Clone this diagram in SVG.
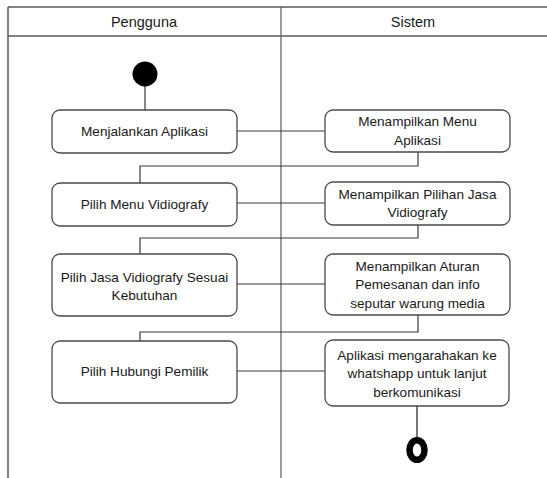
<svg xmlns="http://www.w3.org/2000/svg" width="547" height="478" viewBox="0 0 547 478">
<style>
.frame{stroke:#5a5a5a;stroke-width:1.5;fill:none}
.box{fill:#fff;stroke:#4a4a4a;stroke-width:1.3}
.t{font-family:"Liberation Sans",Arial,sans-serif;font-size:13.6px;fill:#1a1a1a;text-anchor:middle;dominant-baseline:central}
.h{font-family:"Liberation Sans",Arial,sans-serif;font-size:14.5px;fill:#1a1a1a;text-anchor:middle;dominant-baseline:central}
.c{stroke:#3a3a3a;stroke-width:1.2;fill:none}
</style>
<rect width="547" height="478" fill="#fff"/>
<g id="lanes">
<line class="frame" x1="8" y1="7" x2="547" y2="7"/>
<line class="frame" x1="8" y1="36" x2="547" y2="36"/>
<line class="frame" x1="8" y1="7" x2="8" y2="478"/>
<line class="frame" x1="281" y1="7" x2="281" y2="478" style="stroke-width:1.2"/>
<text class="h" x="144" y="22">Pengguna</text>
<text class="h" x="413" y="22">Sistem</text>
</g>
<g id="connectors">
<line class="c" x1="145" y1="86" x2="145" y2="110"/>
<line class="c" x1="237" y1="131" x2="325" y2="131"/>
<polyline class="c" points="418,152 418,166 140,166 140,183"/>
<line class="c" x1="237" y1="203" x2="325" y2="203"/>
<polyline class="c" points="418,225 418,238 140,238 140,254"/>
<line class="c" x1="237" y1="284" x2="325" y2="284"/>
<polyline class="c" points="418,315 418,332 140,332 140,341"/>
<line class="c" x1="237" y1="371" x2="325" y2="371"/>
<line x1="417" y1="406" x2="417" y2="438" stroke="#777" stroke-width="2"/>
</g>
<g id="start"><circle cx="145" cy="74" r="12.5" fill="#000"/></g>
<g id="n1"><rect class="box" x="52" y="110" width="185" height="43" rx="8"/><text class="t" x="144.5" y="131.5">Menjalankan Aplikasi</text></g>
<g id="n2"><rect class="box" x="325" y="110" width="185" height="42" rx="8"/><text class="t" x="417.5" y="121.5">Menampilkan Menu</text><text class="t" x="417.5" y="140">Aplikasi</text></g>
<g id="n3"><rect class="box" x="52" y="183" width="185" height="43" rx="8"/><text class="t" x="144.5" y="204">Pilih Menu Vidiografy</text></g>
<g id="n4"><rect class="box" x="325" y="182" width="185" height="43" rx="8"/><text class="t" x="417.5" y="194">Menampilkan Pilihan Jasa</text><text class="t" x="417.5" y="212">Vidiografy</text></g>
<g id="n5"><rect class="box" x="52" y="254" width="185" height="62" rx="8"/><text class="t" x="144.5" y="277.5">Pilih Jasa Vidiografy Sesuai</text><text class="t" x="144.5" y="295">Kebutuhan</text></g>
<g id="n6"><rect class="box" x="325" y="254" width="185" height="61" rx="8"/><text class="t" x="417.5" y="266.5">Menampilkan Aturan</text><text class="t" x="417.5" y="284.5">Pemesanan dan info</text><text class="t" x="417.5" y="303">seputar warung media</text></g>
<g id="n7"><rect class="box" x="52" y="341" width="185" height="62" rx="8"/><text class="t" x="144.5" y="371.5">Pilih Hubungi Pemilik</text></g>
<g id="n8"><rect class="box" x="325" y="340" width="184" height="66" rx="8"/><text class="t" x="417" y="355">Aplikasi mengarahakan ke</text><text class="t" x="417" y="373.5">whatshapp untuk lanjut</text><text class="t" x="417" y="392.5">berkomunikasi</text></g>
<g id="end"><ellipse cx="417" cy="450" rx="7.5" ry="9.8" fill="none" stroke="#000" stroke-width="6.5"/></g>
</svg>
